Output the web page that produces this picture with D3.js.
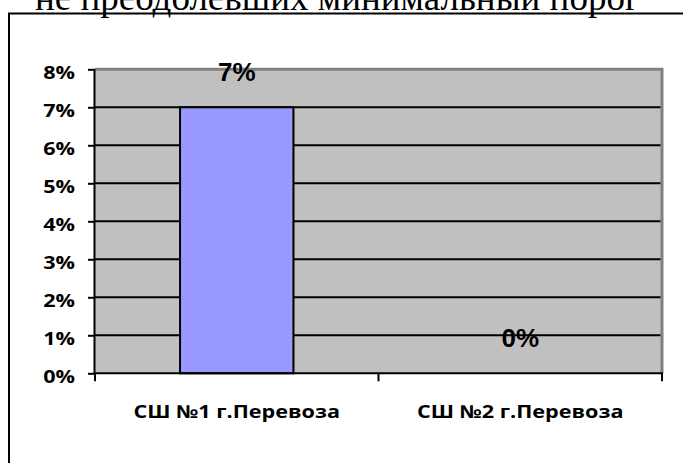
<!DOCTYPE html>
<html><head><meta charset="utf-8">
<script src="https://cdn.jsdelivr.net/npm/d3@7"></script>
<style>html,body{margin:0;padding:0;background:#fff;overflow:hidden}</style>
</head><body>
<svg id="c" width="683" height="463"></svg>
<script>
const titleText = "не преодолевших минимальный порог";
const categories = ["СШ №1 г.Перевоза", "СШ №2 г.Перевоза"];
const values = [0.07, 0.00];
const valueLabels = ["7%", "0%"];
const yTicks = [0, 0.01, 0.02, 0.03, 0.04, 0.05, 0.06, 0.07, 0.08];
const yTickLabels = ["0%", "1%", "2%", "3%", "4%", "5%", "6%", "7%", "8%"];

const svg = d3.select("#c");
const SX = 1.2;

// title (cropped)
svg.append("text").attr("x", 337.5).attr("y", 10).attr("text-anchor", "middle")
  .attr("font-family", "Liberation Serif, Times New Roman, serif").attr("font-size", 37)
  .attr("fill", "#000").text(titleText);

// outer frame
svg.append("rect").attr("x", 9).attr("y", 13.5).attr("width", 720).attr("height", 500)
  .attr("fill", "none").attr("stroke", "#000").attr("stroke-width", 2);

const L = 95, R = 662, T = 69.3, B = 373.3;
const x = d3.scaleBand().domain(categories).range([L, R]).paddingInner(0).paddingOuter(0);
const y = d3.scaleLinear().domain([0, 0.08]).range([B, T]);

// plot background
svg.append("rect").attr("x", L).attr("y", T).attr("width", R - L).attr("height", B - T).attr("fill", "#C0C0C0");
// top/right gray border
svg.append("path").attr("d", `M${L},${T} H${R} V${B}`).attr("fill", "none").attr("stroke", "#808080").attr("stroke-width", 3);

// gridlines
svg.append("g").selectAll("line").data(yTicks.filter(t => t > 0 && t < 0.08)).join("line")
  .attr("x1", L).attr("x2", R - 1.5).attr("y1", d => y(d)).attr("y2", d => y(d))
  .attr("stroke", "#000").attr("stroke-width", 2);

// bars
const bw = x.bandwidth() / 2.5;
svg.append("g").selectAll("rect").data(values).join("rect")
  .attr("x", (d, i) => x(categories[i]) + (x.bandwidth() - bw) / 2)
  .attr("width", bw)
  .attr("y", d => y(d)).attr("height", d => B - y(d))
  .attr("fill", "#9999FF").attr("stroke", "#000").attr("stroke-width", 2)
  .attr("display", d => d > 0 ? null : "none");

// y axis
const yAxis = d3.axisLeft(y).tickValues(yTicks).tickSize(7).tickFormat((d, i) => yTickLabels[i]);
const gy = svg.append("g").attr("transform", `translate(${L},0)`).call(yAxis);
gy.select(".domain").attr("d", `M-0.5,${T}V${B}`).attr("stroke", "#000").attr("stroke-width", 2);
gy.selectAll(".tick line").attr("stroke", "#000").attr("stroke-width", 2);
gy.selectAll(".tick text").attr("x", null).attr("dy", null)
  .attr("font-family", "Open Sans, sans-serif").attr("font-weight", "bold").attr("font-size", 18)
  .attr("fill", "#000").attr("text-anchor", "end").attr("dominant-baseline", "central")
  .attr("transform", `translate(-20,2) scale(${SX},1)`);

// x axis
const gx = svg.append("g").attr("transform", `translate(0,${B})`);
gx.append("line").attr("x1", L - 1).attr("x2", R + 1).attr("y1", 0).attr("y2", 0).attr("stroke", "#000").attr("stroke-width", 2);
const xt = [L, ...categories.map(c => x(c) + x.bandwidth())];
gx.selectAll(".xt").data(xt).join("line").attr("class", "xt")
  .attr("x1", d => d).attr("x2", d => d).attr("y1", 0).attr("y2", 8)
  .attr("stroke", "#000").attr("stroke-width", 2);
gx.selectAll(".xl").data(categories).join("text").attr("class", "xl")
  .attr("transform", d => `translate(${x(d) + x.bandwidth() / 2},${418 - B}) scale(${SX},1)`)
  .attr("text-anchor", "middle")
  .attr("font-family", "Open Sans, sans-serif").attr("font-weight", "bold").attr("font-size", 18)
  .attr("fill", "#000").text(d => d);

// data labels
svg.append("g").selectAll("text").data(values).join("text")
  .attr("x", (d, i) => x(categories[i]) + x.bandwidth() / 2)
  .attr("y", d => y(d) - 26)
  .attr("text-anchor", "middle")
  .attr("font-family", "Liberation Sans, Arial, sans-serif").attr("font-weight", "bold").attr("font-size", 26)
  .attr("fill", "#000").text((d, i) => valueLabels[i]);
</script>
</body></html>
